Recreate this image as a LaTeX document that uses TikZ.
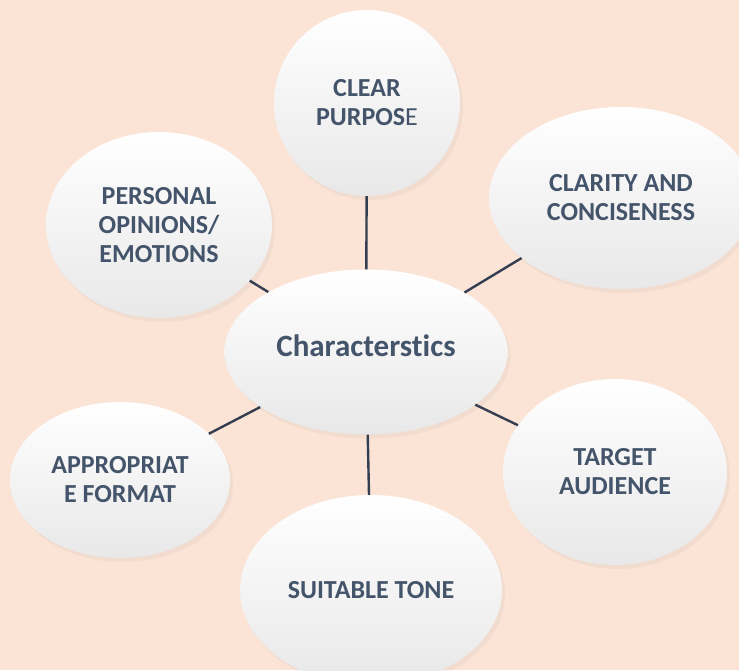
\documentclass[tikz,border=0pt]{standalone}
\usepackage{fontspec}
\setmainfont{Carlito}[Ligatures={CommonOff,RareOff}]
\usetikzlibrary{shapes.geometric,shadows}
\definecolor{peach}{HTML}{FBE4D6}
\definecolor{slate}{HTML}{44546A}
\definecolor{linkcol}{HTML}{333F50}
\begin{document}
\begin{tikzpicture}[x=1pt,y=-1pt]
 \tikzset{bubble/.style={ellipse, inner sep=0pt, align=center, text=slate,
   font=\fontsize{26}{29}\selectfont\bfseries,
   top color=white, middle color=white, bottom color=black!9,
   drop shadow={shadow xshift=3pt, shadow yshift=-4pt, opacity=0.08}}}
 \tikzset{link/.style={draw=linkcol, line width=2.4pt}}
  \fill[peach] (0,0) rectangle (739,670);
  \useasboundingbox (0,0) rectangle (739,670);
  \node[bubble, minimum width=283pt, minimum height=165pt, text depth=12pt,
    font=\fontsize{31}{34}\selectfont\bfseries] (chars) at (366,352) {Characterstics};
  \node[bubble, minimum width=186pt, minimum height=186pt] (purpose) at (367,103) {CLEAR\\PURPOS{\mdseries E}};
  \node[bubble, minimum width=264pt, minimum height=182pt] (clarity) at (621,198) {CLARITY AND\\CONCISENESS};
  \node[bubble, minimum width=226pt, minimum height=186pt] (opinions) at (159,225) {PERSONAL\\OPINIONS/\\EMOTIONS};
  \node[bubble, minimum width=224pt, minimum height=186pt] (audience) at (615,472) {TARGET\\AUDIENCE};
  \node[bubble, minimum width=220pt, minimum height=156pt] (format) at (120,480) {APPROPRIAT\\E FORMAT};
  \node[bubble, minimum width=262pt, minimum height=190pt] (tone) at (371,590) {SUITABLE TONE};
  \draw[link] (chars) -- (purpose);
  \draw[link] (chars) -- (clarity);
  \draw[link] (chars) -- (opinions);
  \draw[link] (chars) -- (audience);
  \draw[link] (chars) -- (format);
  \draw[link] (chars) -- (tone);
\end{tikzpicture}
\end{document}
